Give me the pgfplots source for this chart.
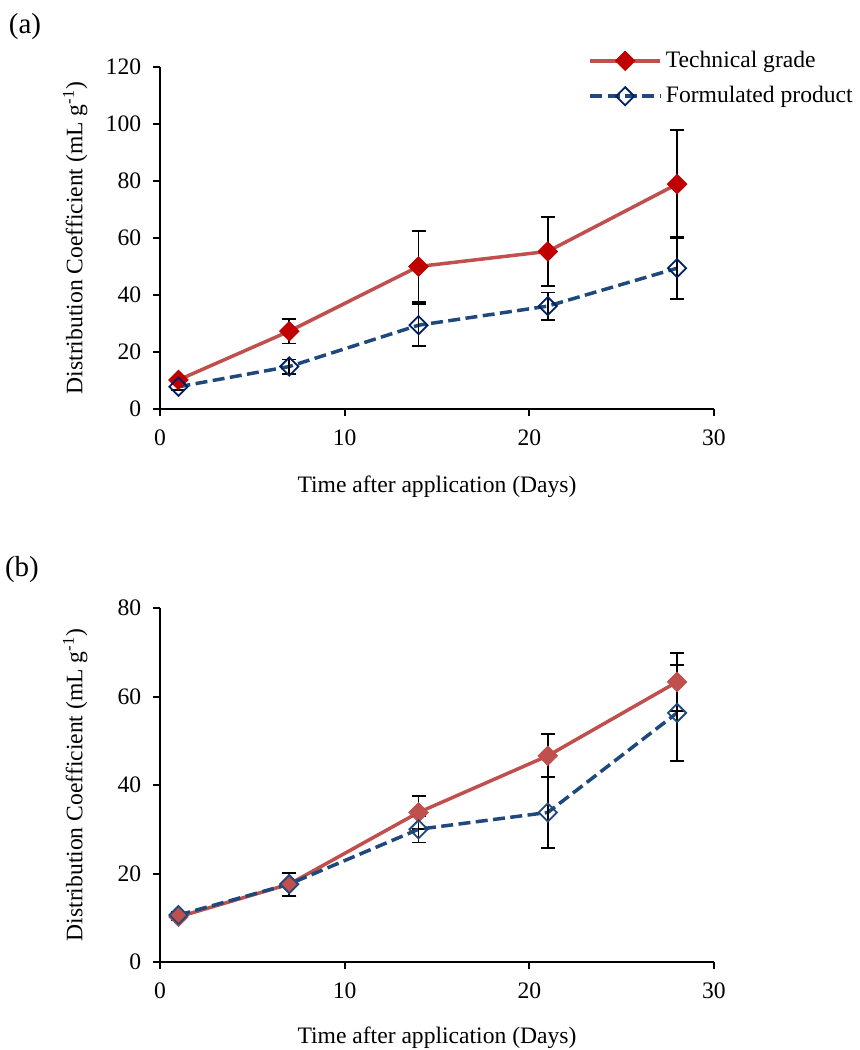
\documentclass[border=0pt]{standalone}
\usepackage{pgfplots}
\pgfplotsset{compat=1.18}
\usepackage{pgfplotstable}
\usepackage{fontspec}
\setmainfont{Liberation Serif}
\definecolor{redline}{RGB}{192,80,77}
\definecolor{redmark}{RGB}{192,0,0}
\definecolor{blueline}{RGB}{31,73,125}
\definecolor{bluemark}{RGB}{0,32,96}

\pgfplotstableread{
x y e
1 10.2 0.8
7 27.3 4.3
14 50.0 12.5
21 55.3 12.1
28 78.9 18.9
}\techA
\pgfplotstableread{
x y e
1 7.8 1.0
7 14.9 2.5
14 29.4 7.4
21 36.1 4.8
28 49.4 10.9
}\formA
\pgfplotstableread{
x y e
1 10.2 0.8
7 17.6 2.6
14 33.8 3.7
21 46.6 4.9
28 63.3 6.6
}\techB
\pgfplotstableread{
x y e
1 10.6 0.8
7 17.6 2.6
14 30.0 3.0
21 33.8 8.1
28 56.3 10.9
}\formB

\pgfplotsset{
  base/.style={
    scale only axis, width=277pt,
    xmin=0, xmax=30, xtick={0,10,20,30},
    axis lines=left,
    axis line style={-, line width=1pt},
    tick style={black, line width=1pt},
    tick align=outside, major tick length=3.3pt,
    /pgf/number format/assume math mode=true,
    tick label style={font=\fontsize{11.8}{14}\selectfont},
    yticklabel style={xshift=-2.6pt},
    xticklabel style={yshift=-3.8pt},
    label style={font=\fontsize{11.8}{14}\selectfont},
    ylabel={Distribution Coefficient (mL g\textsuperscript{-1})},
    xlabel={Time after application (Days)},
    ylabel style={at={(axis description cs:-0.153,0.5)}, anchor=center},
    clip=false,
    legend image code/.code={\draw[mark repeat=2,mark phase=2,##1] plot coordinates {(0pt,0pt) (17.5pt,0pt) (35pt,0pt)};},
  },
  ebar/.style={error bars/.cd, y dir=both, y explicit,
    error bar style={black, line width=0.9pt, solid},
    error mark options={rotate=90, mark size=3.5pt, black, line width=0.9pt, solid}},
}

\begin{document}
\begin{tikzpicture}
\useasboundingbox (-80pt,-44pt) rectangle (349.5pt,481pt);

\begin{axis}[base, at={(0pt,276.5pt)}, anchor=south west,
  height=171pt, ymin=0, ymax=120, ytick={0,20,...,120},
  xlabel style={at={(axis description cs:0.5,-0.228)}, anchor=center},
  legend style={at={(0.769,1.065)}, anchor=north west, draw=none, fill=none,
    font=\fontsize{11.8}{14}\selectfont, row sep=4pt, inner sep=1pt},
  legend cell align=left]
\addplot[redline, line width=1.75pt, mark=square*, mark size=3.4pt,
  mark options={rotate=45, fill=redmark, draw=redmark, line width=0.5pt, solid}, ebar]
  table[x=x, y=y, y error=e] {\techA};
\addlegendentry{Technical grade}
\addplot[blueline, line width=1.75pt, dash pattern=on 6pt off 2.7pt, mark=square, mark size=3.2pt,
  mark options={rotate=45, fill=white, draw=bluemark, line width=0.9pt, solid}, ebar]
  table[x=x, y=y, y error=e] {\formA};
\addlegendentry{Formulated product}
\end{axis}

\begin{axis}[base, at={(0pt,0pt)}, anchor=south west,
  height=177pt, ymin=0, ymax=80, ytick={0,20,...,80},
  xlabel style={at={(axis description cs:0.5,-0.215)}, anchor=center}]
\addplot[redline, line width=1.75pt, mark=square*, mark size=3.4pt,
  mark options={rotate=45, fill=redline, draw=redline, line width=0.5pt, solid}, ebar]
  table[x=x, y=y, y error=e] {\techB};
\addplot[blueline, line width=1.75pt, dash pattern=on 6pt off 2.7pt, mark=square, mark size=3.2pt,
  mark options={rotate=45, fill=white, draw=blueline, line width=0.9pt, solid}, ebar]
  table[x=x, y=y, y error=e] {\formB};
\end{axis}

\node[font=\fontsize{14.5}{17}\selectfont] at (-67.5pt,467.5pt) {(a)};
\node[font=\fontsize{14.5}{17}\selectfont] at (-69pt,196pt) {(b)};
\end{tikzpicture}
\end{document}
